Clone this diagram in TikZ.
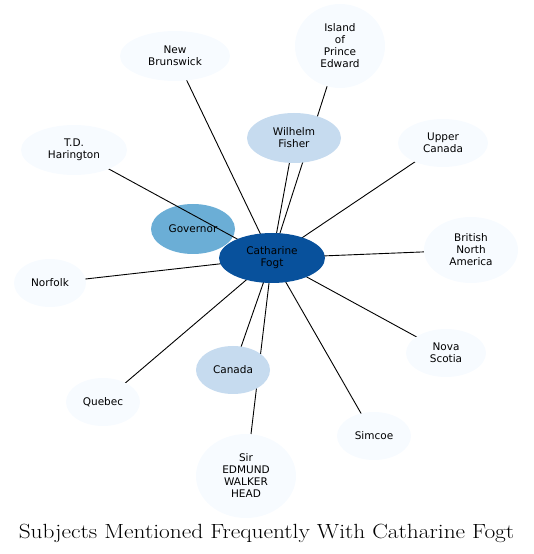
\documentclass[tikz,border=0pt]{standalone}
\usepackage{fontspec}
\setsansfont{DejaVu Sans}
\definecolor{cLight}{HTML}{F7FBFF}
\definecolor{cMid}{HTML}{C6DBEF}
\definecolor{cGov}{HTML}{6BAED6}
\definecolor{cCtr}{HTML}{08519C}
\tikzset{
  nd/.style={ellipse, inner sep=0pt, align=center, font=\sffamily\fontsize{10.5}{12}\selectfont, text=black},
  edge/.style={draw=black, line width=0.9pt},
}
\usetikzlibrary{shapes.geometric}
\begin{document}
\begin{tikzpicture}[x=1pt,y=1pt]
\useasboundingbox (0,0) rectangle (533,554);
% Governor drawn beneath the edges
\node[nd, fill=cGov, minimum width=84pt, minimum height=50pt] (gov) at (193,325) {Governor};
% positions
\coordinate (pc) at (272,296);
\coordinate (pnb) at (175,498);
\coordinate (pipe) at (340,508);
\coordinate (pwf) at (294,416);
\coordinate (ptd) at (74,404);
\coordinate (puc) at (443,411);
\coordinate (pbna) at (471,304);
\coordinate (pnf) at (50,271);
\coordinate (pns) at (446,201);
\coordinate (pca) at (233,184);
\coordinate (pqu) at (103,152);
\coordinate (psi) at (374,118);
\coordinate (psew) at (246,78);
% edges
\draw[edge] (pc) -- (pnb);
\draw[edge] (pc) -- (pipe);
\draw[edge] (pc) -- (pwf);
\draw[edge] (pc) -- (ptd);
\draw[edge] (pc) -- (puc);
\draw[edge] (pc) -- (pbna);
\draw[edge] (pc) -- (pnf);
\draw[edge] (pc) -- (pns);
\draw[edge] (pc) -- (pca);
\draw[edge] (pc) -- (pqu);
\draw[edge] (pc) -- (psi);
\draw[edge] (pc) -- (psew);
% nodes
\node[nd, fill=cCtr, minimum width=106pt, minimum height=50pt] (c) at (pc) {Catharine\\Fogt};
\node[nd, fill=cLight, minimum width=110pt, minimum height=50pt] (nb) at (pnb) {New\\Brunswick};
\node[nd, fill=cLight, minimum width=90pt, minimum height=84pt] (ipe) at (pipe) {Island\\of\\Prince\\Edward};
\node[nd, fill=cMid, minimum width=94pt, minimum height=50pt] (wf) at (pwf) {Wilhelm\\Fisher};
\node[nd, fill=cLight, minimum width=106pt, minimum height=50pt] (td) at (ptd) {T.D.\\Harington};
\node[nd, fill=cLight, minimum width=90pt, minimum height=48pt] (uc) at (puc) {Upper\\Canada};
\node[nd, fill=cLight, minimum width=94pt, minimum height=66pt] (bna) at (pbna) {British\\North\\America};
\node[nd, fill=cLight, minimum width=72pt, minimum height=48pt] (nf) at (pnf) {Norfolk};
\node[nd, fill=cLight, minimum width=80pt, minimum height=48pt] (ns) at (pns) {Nova\\Scotia};
\node[nd, fill=cMid, minimum width=74pt, minimum height=48pt] (ca) at (pca) {Canada};
\node[nd, fill=cLight, minimum width=74pt, minimum height=48pt] (qu) at (pqu) {Quebec};
\node[nd, fill=cLight, minimum width=74pt, minimum height=48pt] (si) at (psi) {Simcoe};
\node[nd, fill=cLight, minimum width=100pt, minimum height=84pt] (sew) at (psew) {Sir\\EDMUND\\WALKER\\HEAD};
% title
\node[font=\fontsize{20.5}{24}\selectfont, inner sep=0pt] (title) at (266.5,21) {\scalebox{1.14}[1]{Subjects Mentioned Frequently With Catharine Fogt}};
\end{tikzpicture}
\end{document}
